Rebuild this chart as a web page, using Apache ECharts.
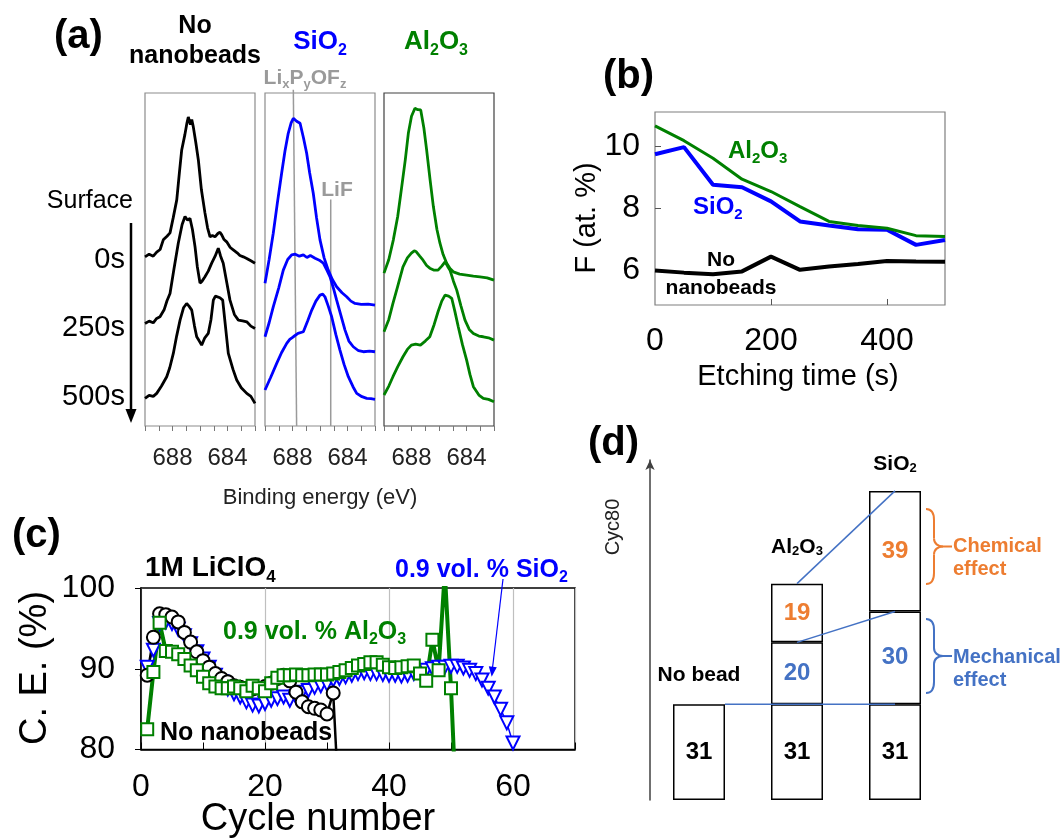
<!DOCTYPE html>
<html>
<head>
<meta charset="utf-8">
<script src="https://cdn.jsdelivr.net/npm/echarts@6/dist/echarts.min.js"></script>
<style>
  html, body { margin: 0; padding: 0; background: #fff; }
  #main { width: 1061px; height: 839px; }
</style>
</head>
<body>
<div id="main"></div>
<script>
// ---- (a) F 1s spectra, [binding energy (eV), intensity (% of panel height)] ----
const noBead0s = [[690,50.8],[689.7,51.6],[689.4,51.0],[689.15,52.2],[688.9,53.0],[688.67,55.9],[688.4,57.0],[688.18,58.0],[687.95,62.5],[687.69,67.9],[687.5,76.0],[687.33,82.9],[687.1,87.5],[686.95,91.0],[686.85,92.8],[686.7,90.5],[686.6,92.0],[686.49,89.9],[686.3,85.0],[686.12,79.9],[685.9,71.0],[685.64,64.0],[685.45,59.5],[685.27,56.8],[685.1,57.2],[684.91,56.8],[684.7,57.8],[684.55,58.2],[684.42,57.4],[684.25,56.0],[684.06,55.3],[683.8,53.6],[683.58,52.9],[683.3,52.0],[683.1,51.2],[682.85,50.8],[682.6,50.3],[682.3,49.6],[682,48.9]];
const noBead250s = [[690,30.8],[689.7,31.5],[689.4,31.0],[689.15,32.3],[688.91,32.8],[688.6,35.0],[688.4,37.6],[688.18,39.8],[687.9,47.0],[687.58,54.9],[687.3,60.5],[687.09,62.9],[686.9,61.8],[686.73,62.4],[686.55,59.0],[686.36,53.8],[686.2,48.0],[686.0,42.9],[685.85,43.5],[685.64,44.8],[685.4,46.5],[685.15,48.9],[684.9,51.0],[684.67,53.4],[684.5,51.0],[684.31,48.9],[684.05,43.0],[683.82,37.8],[683.5,33.5],[683.21,31.8],[682.9,31.6],[682.6,31.3],[682.3,30.0],[682,29.3]];
const noBead500s = [[690,8.3],[689.7,9.2],[689.4,8.9],[689.15,9.8],[688.8,12.0],[688.42,14.8],[688.2,17.5],[687.94,21.8],[687.7,27.0],[687.45,31.8],[687.2,35.5],[686.97,36.8],[686.8,36.0],[686.6,34.8],[686.4,30.0],[686.24,26.8],[686.05,25.5],[685.88,24.3],[685.65,26.5],[685.4,27.8],[685.2,32.0],[685.03,37.8],[684.88,39.0],[684.74,39.3],[684.55,38.5],[684.35,37.8],[684.15,30.0],[683.94,21.8],[683.6,17.0],[683.33,13.8],[683.0,11.5],[682.6,9.8],[682.3,8.9],[682,6.8]];
const sio2_0s = [[690,42.9],[689.7,50.0],[689.4,57.9],[689.1,67.0],[688.79,75.9],[688.55,82.5],[688.31,87.9],[688.1,91.0],[687.94,92.4],[687.7,91.5],[687.45,90.9],[687.2,86.5],[686.97,81.9],[686.75,76.0],[686.49,69.9],[686.25,62.5],[686.0,55.9],[685.7,50.5],[685.4,46.8],[685.1,44.0],[684.79,41.8],[684.4,40.0],[684.06,38.8],[683.75,37.5],[683.45,36.8],[683.0,36.5],[682.5,36.6],[682,36.3]];
const sio2_250s = [[690,26.8],[689.7,31.0],[689.4,35.8],[689.0,41.5],[688.67,46.8],[688.35,50.0],[688.06,51.4],[687.8,51.6],[687.5,51.0],[687.21,51.4],[686.95,50.6],[686.7,51.2],[686.36,50.4],[686.05,49.8],[685.76,48.9],[685.5,46.8],[685.27,44.8],[685.0,41.0],[684.79,37.8],[684.5,33.5],[684.18,28.8],[683.9,25.5],[683.58,23.8],[683.2,22.6],[682.85,22.3],[682.4,22.5],[682,22.3]];
const sio2_500s = [[690,10.8],[689.6,14.5],[689.15,18.8],[688.8,22.0],[688.42,24.8],[688.2,26.0],[687.94,26.8],[687.6,27.8],[687.21,28.3],[686.9,31.5],[686.6,34.8],[686.3,37.5],[686.0,39.3],[685.8,39.6],[685.64,38.8],[685.4,36.0],[685.15,32.8],[684.85,27.5],[684.55,22.8],[684.25,18.5],[683.94,14.8],[683.6,11.8],[683.33,9.8],[682.95,8.8],[682.6,8.3],[682.3,8.2],[682,8.0]];
const al2o3_0s = [[690,45.9],[689.65,50.0],[689.32,55.9],[689.0,63.0],[688.71,71.9],[688.45,80.0],[688.23,87.9],[688.0,93.0],[687.75,95.4],[687.55,95.0],[687.33,94.9],[687.1,89.5],[686.9,82.9],[686.65,74.0],[686.41,65.9],[686.15,59.0],[685.93,54.9],[685.7,51.5],[685.44,48.9],[685.2,47.3],[684.96,46.3],[684.5,45.6],[683.99,45.3],[683.5,45.0],[683.02,44.8],[682.5,44.5],[682,43.8]];
const al2o3_250s = [[690,28.3],[689.65,32.0],[689.35,36.8],[689.0,42.0],[688.62,47.8],[688.3,50.5],[688.01,51.9],[687.8,52.6],[687.65,52.3],[687.4,51.0],[687.16,49.8],[686.9,48.2],[686.67,47.4],[686.35,46.8],[686.07,46.8],[685.8,48.0],[685.56,49.3],[685.38,48.0],[685.2,46.8],[684.95,43.5],[684.71,40.8],[684.4,36.0],[684.11,31.8],[683.8,29.0],[683.5,27.8],[683.1,27.0],[682.78,26.8],[682.4,26.5],[682,25.8]];
const al2o3_500s = [[690,9.3],[689.65,12.0],[689.35,14.8],[689.0,17.8],[688.62,20.8],[688.3,23.0],[688.01,24.3],[687.7,24.6],[687.35,24.3],[687.0,25.5],[686.67,26.8],[686.35,30.5],[686.07,34.3],[685.8,37.5],[685.56,39.3],[685.3,39.0],[685.07,38.3],[684.85,34.5],[684.6,29.8],[684.3,24.5],[683.99,19.8],[683.75,15.5],[683.5,11.8],[683.1,9.3],[682.78,8.3],[682.4,8.0],[682,7.3]];
// reference lines in the SiO2 panel
const lixpyofzLine = [[687.94,101],[687.7,0]];
const lifLine = [[685.22,68],[685.22,0]];

// ---- (b) F content vs etching time ----
const etchTime = [0,50,100,150,200,250,300,350,400,450,500];
const fAl2o3 = [10.67,10.19,9.62,8.94,8.54,8.05,7.57,7.44,7.35,7.11,7.08];
const fSio2 = [9.75,9.98,8.76,8.68,8.22,7.57,7.44,7.32,7.30,6.81,6.97];
const fNoBead = [5.98,5.91,5.86,5.95,6.43,6.00,6.11,6.19,6.29,6.27,6.26];

// ---- (c) coulombic efficiency, cycle = index + 1 ----
const ceNoBead = [89.2,93.9,96.8,96.7,96.4,95.8,94.5,93.3,92.1,91.0,90.2,89.4,88.8,88.4,87.9,87.7,87.6,87.5,87.6,87.8,88.2,88.8,89.2,88.5,87.1,85.9,85.3,85.1,84.9,84.4,87.0,72];
const ceSio2 = [90.2,92.3,95.6,95.8,95.6,94.9,94.1,93.1,92.1,91.2,90.2,89.2,88.4,87.5,86.9,86.5,85.9,85.5,85.4,85.7,86.1,86.3,86.5,86.1,86.5,87.1,87.3,87.7,87.9,88.1,88.6,88.8,89.0,89.2,89.4,89.5,89.4,89.4,89.3,89.2,89.2,89.1,89.2,89.4,89.6,89.8,90.0,90.2,90.2,90.3,90.3,90.1,89.8,89.4,88.6,87.6,86.5,85.0,83.3,80.8];
const ceAl2o3 = [82.5,89.6,95.7,92.2,92.1,91.8,91.2,90.4,89.8,89.0,88.2,87.8,87.6,87.6,87.8,87.6,87.2,87.9,87.6,87.2,88.2,88.9,89.2,89.2,89.3,89.2,89.2,89.3,89.3,89.3,89.4,89.6,89.8,90.1,90.4,90.6,90.8,90.8,90.5,90.2,90.1,90.2,90.3,90.4,89.4,88.5,93.6,89.8,102,87.6,70];

// ---- (d) Cyc80 breakdown ----
const dCategories = ['No bead', 'Al2O3', 'SiO2'];
const dBase = [31, 31, 31];
const dMech = [null, 20, 30];
const dChem = [null, 19, 39];

const FONT = '"Liberation Sans", Arial, sans-serif';
const BLUE = '#0000ff', GREEN = '#008000', OBLUE = '#4472c4', ORANGE = '#ed7d31';

// subscript digits after letters: Al2O3 -> Al{s|2}O{s|3}
function chem(s) { return s.replace(/([A-Za-z])(\d)/g, '$1{s|$2}'); }
function subRich(size, color, weight) {
    const fs = Math.round(size * 0.62);
    return { s: { fontSize: fs, fontWeight: weight, fontFamily: FONT, fill: color, color: color, verticalAlign: 'bottom', lineHeight: fs } };
}
function txt(x, y, text, size, o) {
    o = o || {};
    const color = o.color || '#000';
    const weight = o.bold ? 'bold' : 'normal';
    return {
        type: 'text', x: x, y: y, rotation: o.rot || 0, z: 50,
        style: {
            text: text, fill: color, fontSize: size, fontWeight: weight, fontFamily: FONT,
            align: o.align || 'left', verticalAlign: 'middle',
            textAlign: o.align || 'left', textVerticalAlign: 'middle',
            lineHeight: o.lh || Math.round(size * 1.25),
            rich: subRich(size, color, weight)
        }
    };
}
function brace(x0, yTop, yBot, color) {
    const xm = x0 + 8, xt = x0 + 17, ym = (yTop + yBot) / 2;
    const st = { stroke: color, lineWidth: 2, fill: null };
    return [
        { type: 'bezierCurve', shape: { x1: x0, y1: yTop, x2: xm, y2: yTop + 11, cpx1: x0 + 6, cpy1: yTop, cpx2: xm, cpy2: yTop + 4 }, style: st },
        { type: 'line', shape: { x1: xm, y1: yTop + 11, x2: xm, y2: ym - 8 }, style: st },
        { type: 'bezierCurve', shape: { x1: xm, y1: ym - 8, x2: xt, y2: ym, cpx1: xm, cpy1: ym - 3, cpx2: xm + 4, cpy2: ym }, style: st },
        { type: 'bezierCurve', shape: { x1: xt, y1: ym, x2: xm, y2: ym + 8, cpx1: xm + 4, cpy1: ym, cpx2: xm, cpy2: ym + 3 }, style: st },
        { type: 'line', shape: { x1: xm, y1: ym + 8, x2: xm, y2: yBot - 11 }, style: st },
        { type: 'bezierCurve', shape: { x1: xm, y1: yBot - 11, x2: x0, y2: yBot, cpx1: xm, cpy1: yBot - 4, cpx2: x0 + 6, cpy2: yBot }, style: st },
        { type: 'line', shape: { x1: xt, y1: ym, x2: xt + 9, y2: ym }, style: st }
    ];
}

const chart = echarts.init(document.getElementById('main'));

// panel (a) axes
const aLefts = [145, 265, 384];
const aColors = [['#000', noBead0s, noBead250s, noBead500s], [BLUE, sio2_0s, sio2_250s, sio2_500s], [GREEN, al2o3_0s, al2o3_250s, al2o3_500s]];
const grids = aLefts.map((l, i) => ({ left: l, top: 93, width: 110, height: 333, show: true, borderColor: i === 2 ? '#404040' : '#8c8c8c', borderWidth: 1.2 }));
grids.push({ left: 655, top: 112, width: 290, height: 193, show: true, borderColor: '#7f7f7f', borderWidth: 1.2 });
grids.push({ left: 141, top: 588, width: 434, height: 161.5, show: true, borderColor: '#000', borderWidth: 1.5 });
grids.push({ left: 650, top: 460, width: 294, height: 340 });

const xAxes = aLefts.map((l, i) => ({
    type: 'value', gridIndex: i, min: 682, max: 690, interval: 1, inverse: true,
    axisLine: { show: false },
    axisTick: { show: true, length: 5, lineStyle: { color: '#777' } },
    axisLabel: { fontSize: 24, color: '#222', margin: 20, fontFamily: FONT, formatter: v => (v === 688 || v === 684) ? String(v) : '' },
    splitLine: { show: false }
}));
xAxes.push({
    type: 'value', gridIndex: 3, min: 0, max: 500,
    axisLine: { show: false },
    axisTick: { show: true, inside: true, length: 6, customValues: [200, 400], lineStyle: { color: '#555' } },
    axisLabel: { customValues: [0, 200, 400], fontSize: 32, color: '#000', margin: 20, fontFamily: FONT },
    splitLine: { show: false }
});
xAxes.push({
    type: 'value', gridIndex: 4, min: 0, max: 70, interval: 20,
    axisLine: { show: true, lineStyle: { color: '#000', width: 1.5 } },
    axisTick: { show: true, inside: true, length: 7, lineStyle: { color: '#000' } },
    minorTick: { show: true, splitNumber: 2, length: 7, lineStyle: { color: '#000' } },
    axisLabel: { fontSize: 32, color: '#000', margin: 22, fontFamily: FONT, formatter: v => v === 70 ? '' : String(v) },
    splitLine: { show: true, lineStyle: { color: '#bfbfbf', width: 1.2 } }
});
xAxes.push({ type: 'category', gridIndex: 5, data: dCategories, show: false });
xAxes.push({ type: 'value', gridIndex: 5, min: 0, max: 3, show: false });

const yAxes = aLefts.map((l, i) => ({ type: 'value', gridIndex: i, min: 0, max: 100, show: false }));
yAxes.push({
    type: 'value', gridIndex: 3, min: 4.86, max: 11.12,
    axisLine: { show: false },
    axisTick: { show: true, inside: true, length: 6, customValues: [6, 8, 10], lineStyle: { color: '#555' } },
    axisLabel: { customValues: [6, 8, 10], fontSize: 32, color: '#000', margin: 15, fontFamily: FONT },
    splitLine: { show: false }
});
yAxes.push({
    type: 'value', gridIndex: 4, min: 80, max: 100, interval: 10,
    axisLine: { show: true, lineStyle: { color: '#000', width: 1.5 } },
    axisTick: { show: true, length: 6, lineStyle: { color: '#000' } },
    axisLabel: { fontSize: 32, color: '#000', margin: 26, fontFamily: FONT },
    splitLine: { show: false }
});
yAxes.push({
    type: 'value', gridIndex: 5, min: 0, max: 110, offset: 5,
    axisLine: { show: true, symbol: ['none', 'arrow'], symbolSize: [7, 10], lineStyle: { color: '#404040', width: 1.5 } },
    axisTick: { show: false }, axisLabel: { show: false }, splitLine: { show: false }
});

const series = [];
// (a) reference lines behind the spectra
series.push({ type: 'line', xAxisIndex: 1, yAxisIndex: 1, data: lixpyofzLine, showSymbol: false, clip: false, z: 1, lineStyle: { color: '#9a9a9a', width: 1.5 } });
series.push({ type: 'line', xAxisIndex: 1, yAxisIndex: 1, data: lifLine, showSymbol: false, clip: false, z: 1, lineStyle: { color: '#9a9a9a', width: 1.5 } });
aColors.forEach((c, i) => {
    [c[1], c[2], c[3]].forEach(d => {
        series.push({ type: 'line', xAxisIndex: i, yAxisIndex: i, data: d, showSymbol: false, lineStyle: { color: c[0], width: 2.8 } });
    });
});
// (b)
const pairs = (xs, ys) => ys.map((v, i) => [xs[i], v]);
series.push({ type: 'line', xAxisIndex: 3, yAxisIndex: 3, data: pairs(etchTime, fNoBead), showSymbol: false, lineStyle: { color: '#000', width: 4 } });
series.push({ type: 'line', xAxisIndex: 3, yAxisIndex: 3, data: pairs(etchTime, fSio2), showSymbol: false, lineStyle: { color: BLUE, width: 4 } });
series.push({ type: 'line', xAxisIndex: 3, yAxisIndex: 3, data: pairs(etchTime, fAl2o3), showSymbol: false, lineStyle: { color: GREEN, width: 3 } });
// (c)
const byCycle = ys => ys.map((v, i) => [i + 1, v]);
series.push({ type: 'line', xAxisIndex: 4, yAxisIndex: 4, data: byCycle(ceSio2), symbol: 'triangle', symbolRotate: 180, symbolSize: 13,
    itemStyle: { color: '#fff', borderColor: BLUE, borderWidth: 2 }, lineStyle: { color: BLUE, width: 1.5 } });
series.push({ type: 'line', xAxisIndex: 4, yAxisIndex: 4, data: byCycle(ceNoBead), symbol: 'circle', symbolSize: 13,
    itemStyle: { color: '#fff', borderColor: '#000', borderWidth: 2 }, lineStyle: { color: '#000', width: 2.5 } });
series.push({ type: 'line', xAxisIndex: 4, yAxisIndex: 4, data: byCycle(ceAl2o3), symbol: 'rect', symbolSize: 12,
    itemStyle: { color: '#fff', borderColor: GREEN, borderWidth: 2 }, lineStyle: { color: GREEN, width: 4 } });
// (d) stacked boxes
const dash = a => a.map(v => v == null ? '-' : v);
const boxStyle = { color: '#fff', borderColor: '#000', borderWidth: 1.5 };
const boxLabel = c => ({ show: true, position: 'inside', fontSize: 24, fontWeight: 'bold', color: c, fontFamily: FONT });
series.push({ type: 'bar', xAxisIndex: 5, yAxisIndex: 5, stack: 'd', barWidth: 52, data: dBase, itemStyle: boxStyle, label: boxLabel('#000') });
series.push({ type: 'bar', xAxisIndex: 5, yAxisIndex: 5, stack: 'd', barWidth: 52, data: dash(dMech), itemStyle: boxStyle, label: boxLabel(OBLUE) });
series.push({ type: 'bar', xAxisIndex: 5, yAxisIndex: 5, stack: 'd', barWidth: 52, data: dash(dChem), itemStyle: boxStyle, label: boxLabel(ORANGE) });
const nameGap = [18, 26, 16];
series.push({ type: 'bar', xAxisIndex: 5, yAxisIndex: 5, stack: 'd', barWidth: 52,
    data: dCategories.map((c, i) => ({ value: 0, label: { distance: nameGap[i] } })),
    itemStyle: { color: 'rgba(0,0,0,0)', borderWidth: 0 },
    label: { show: true, position: 'top', fontSize: 21, fontWeight: 'bold', color: '#000', fontFamily: FONT,
        formatter: p => chem(dCategories[p.dataIndex]), rich: subRich(21, '#000', 'bold') } });
// (d) connector lines between stack levels (category centres at 0.5, 1.5, 2.5)
const halfBar = 26 / (294 / 3);
const lvl = i => [dBase[i], dBase[i] + (dMech[i] || 0), dBase[i] + (dMech[i] || 0) + (dChem[i] || 0)];
const links = [
    [[0.5 + halfBar, lvl(0)[0]], [2.5, lvl(2)[0]]],
    [[1.5, lvl(1)[1]], [2.5, lvl(2)[1]]],
    [[1.5, lvl(1)[2]], [2.5, lvl(2)[2]]]
];
links.forEach(d => series.push({ type: 'line', xAxisIndex: 6, yAxisIndex: 5, data: d, showSymbol: false, z: 5, lineStyle: { color: OBLUE, width: 1.5 } }));

const graphics = [
    // (a)
    txt(54, 37, '(a)', 40, { bold: true }),
    txt(195, 41.5, 'No\nnanobeads', 25, { bold: true, align: 'center', lh: 30 }),
    txt(320, 42, chem('SiO2'), 26, { bold: true, align: 'center', color: BLUE }),
    txt(436, 42, chem('Al2O3'), 26, { bold: true, align: 'center', color: GREEN }),
    txt(305, 78, 'Li{s|x}P{s|y}OF{s|z}', 21, { bold: true, align: 'center', color: '#9a9a9a' }),
    txt(337, 190, 'LiF', 21, { bold: true, align: 'center', color: '#9a9a9a' }),
    txt(133, 201, 'Surface', 25, { align: 'right' }),
    txt(125, 260, '0s', 29, { align: 'right' }),
    txt(125, 328, '250s', 29, { align: 'right' }),
    txt(125, 397, '500s', 29, { align: 'right' }),
    { type: 'line', shape: { x1: 131, y1: 223, x2: 131, y2: 412 }, style: { stroke: '#000', lineWidth: 2.5 } },
    { type: 'polygon', shape: { points: [[125.5, 409], [136.5, 409], [131, 423]] }, style: { fill: '#000' } },
    txt(320, 498, 'Binding energy (eV)', 22, { align: 'center', color: '#222' }),
    // (b)
    txt(603, 77, '(b)', 40, { bold: true }),
    txt(587, 218, 'F (at. %)', 29, { align: 'center', rot: Math.PI / 2 }),
    txt(798, 377, 'Etching time (s)', 29, { align: 'center' }),
    txt(728, 151, chem('Al2O3'), 24, { bold: true, color: GREEN }),
    txt(693, 207, chem('SiO2'), 24, { bold: true, color: BLUE }),
    txt(721, 260, 'No', 21, { bold: true, align: 'center' }),
    txt(721, 288, 'nanobeads', 21, { bold: true, align: 'center' }),
    // (c)
    txt(12, 536, '(c)', 40, { bold: true }),
    txt(145, 568, chem('1M LiClO4'), 28, { bold: true }),
    txt(395, 570, chem('0.9 vol. % SiO2'), 25, { bold: true, color: BLUE }),
    txt(223, 632, chem('0.9 vol. % Al2O3'), 25, { bold: true, color: GREEN }),
    txt(160, 733, 'No nanobeads', 25, { bold: true }),
    txt(36, 668, 'C. E. (%)', 38, { align: 'center', rot: Math.PI / 2 }),
    txt(318, 820, 'Cycle number', 38, { align: 'center' }),
    { type: 'line', shape: { x1: 503, y1: 579, x2: 492.5, y2: 668 }, style: { stroke: BLUE, lineWidth: 1.2 }, z: 60 },
    { type: 'polygon', shape: { points: [[491.7, 676.7], [496.8, 667.3], [488.8, 666.3]] }, style: { fill: BLUE }, z: 60 },
    // (d)
    txt(588, 444, '(d)', 40, { bold: true }),
    txt(613, 527, 'Cyc80', 20, { align: 'center', rot: Math.PI / 2, color: '#222' }),
    txt(953, 557.5, 'Chemical\neffect', 20, { bold: true, color: ORANGE, lh: 23 }),
    txt(953, 669, 'Mechanical\neffect', 20, { bold: true, color: OBLUE, lh: 23 })
].concat(brace(926, 509, 584, ORANGE), brace(926, 619, 693, OBLUE));

chart.setOption({
    animation: false,
    backgroundColor: '#fff',
    textStyle: { fontFamily: FONT },
    grid: grids,
    xAxis: xAxes,
    yAxis: yAxes,
    series: series,
    graphic: { elements: graphics }
});
window.addEventListener('resize', function () { chart.resize(); });
</script>
</body>
</html>
